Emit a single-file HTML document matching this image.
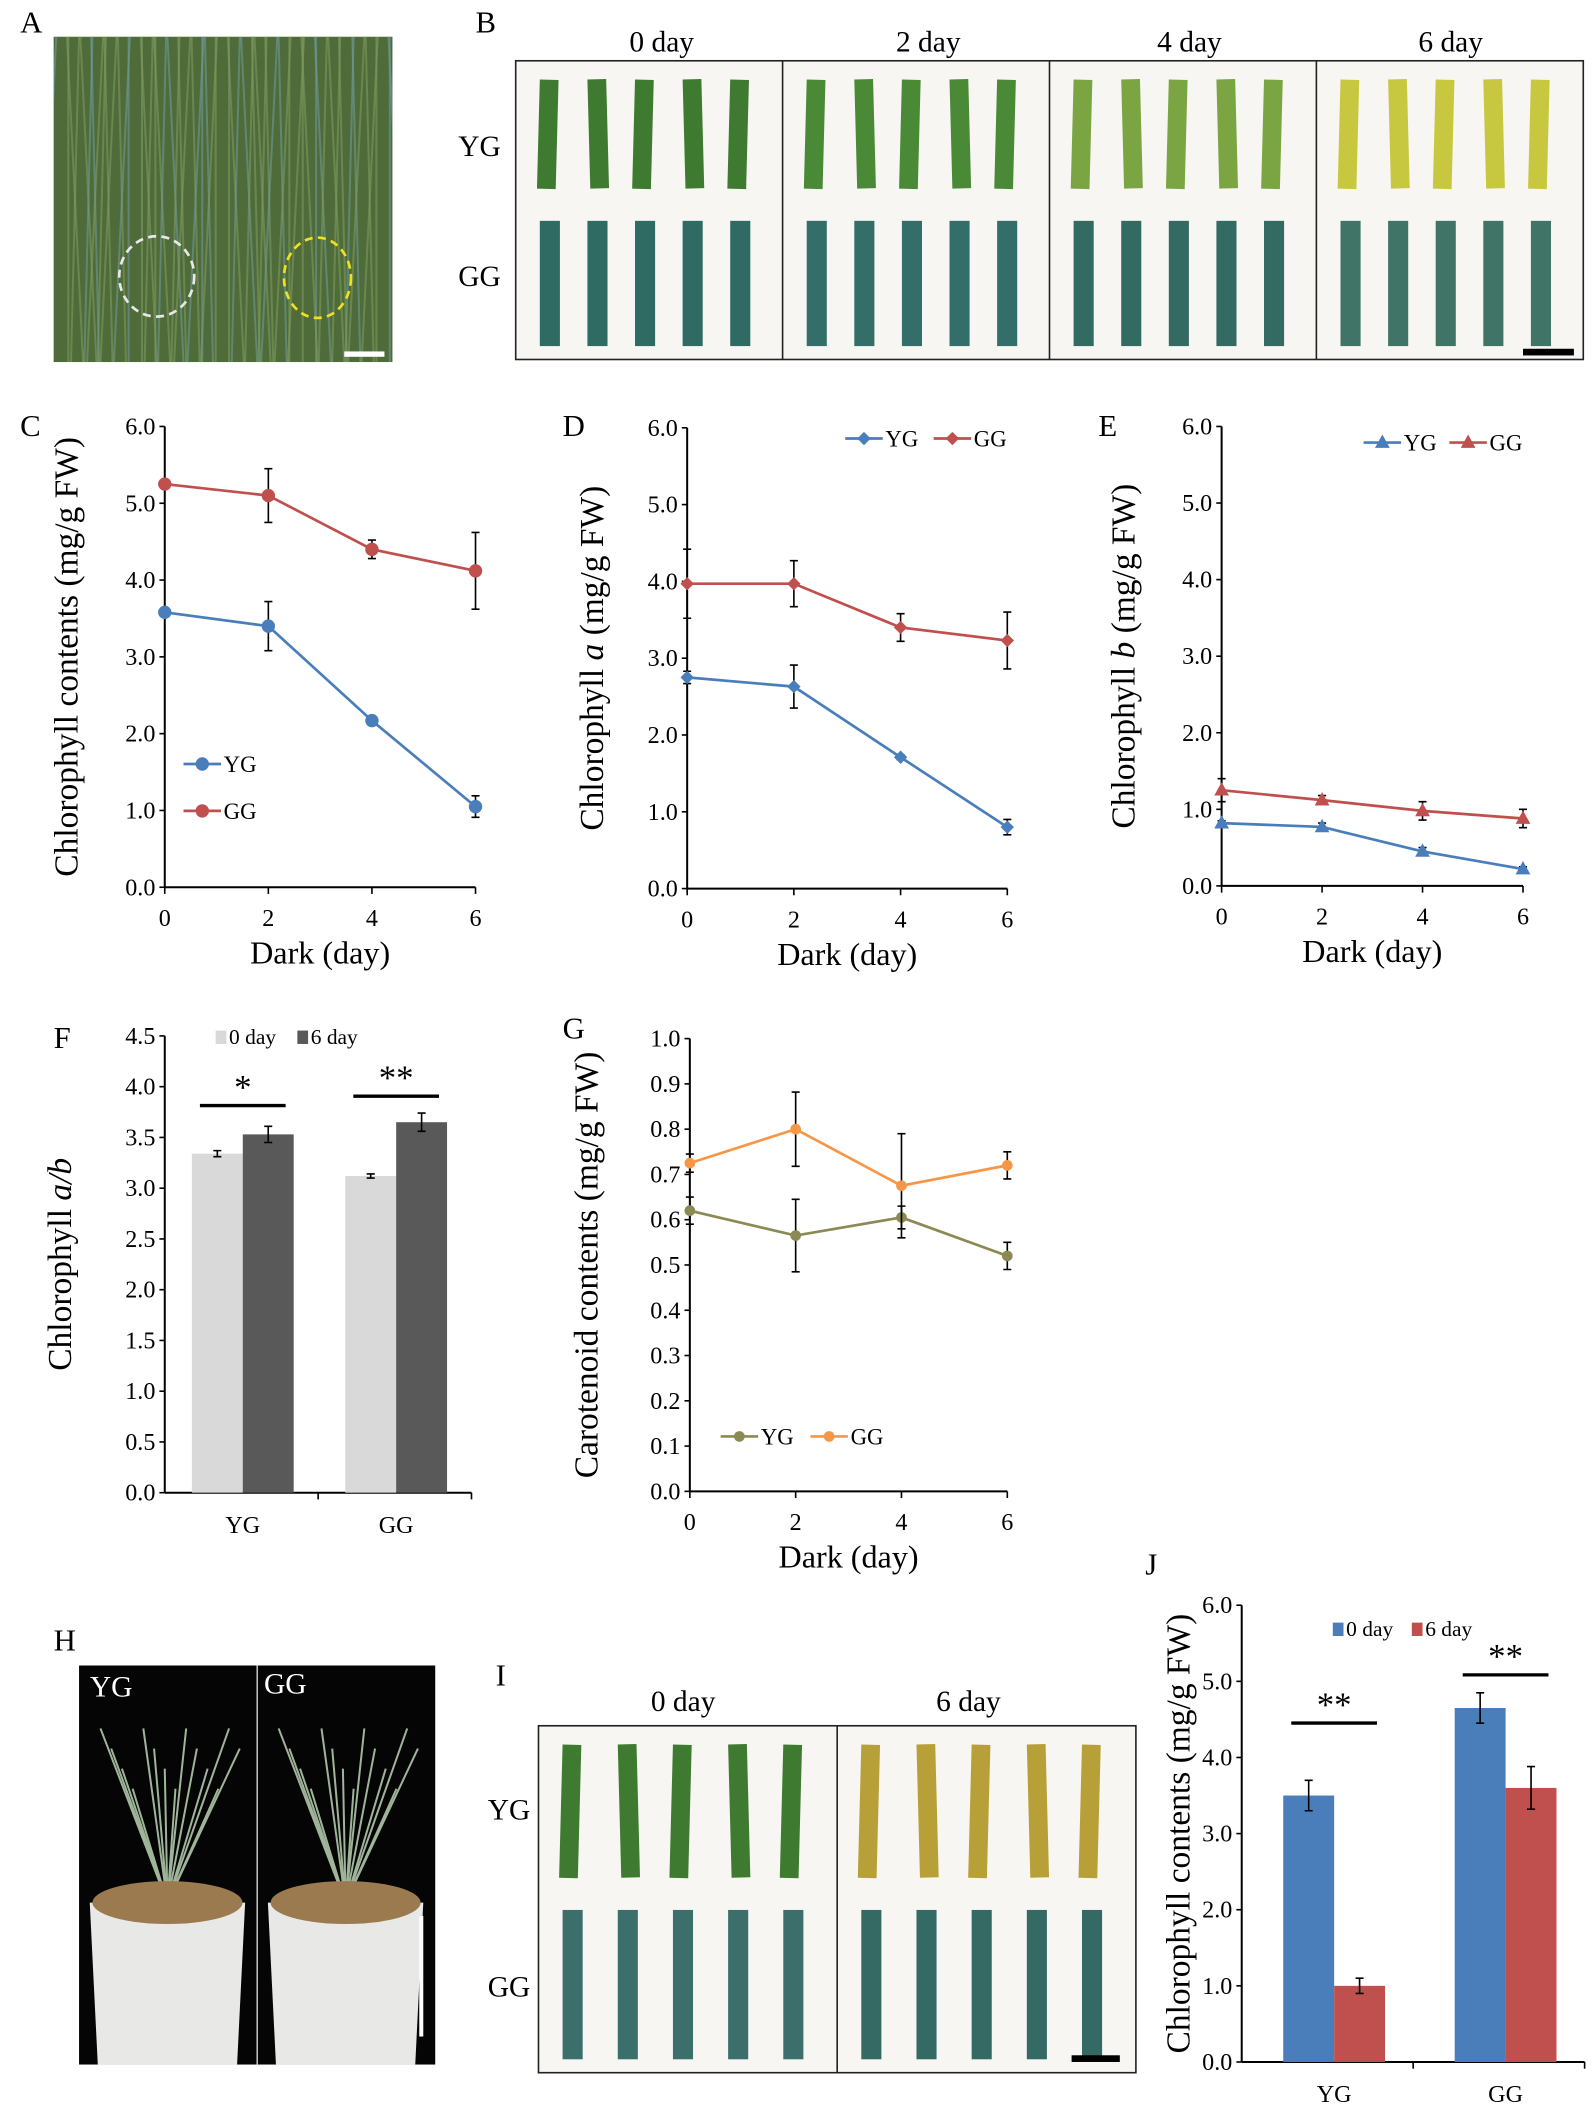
<!DOCTYPE html>
<html><head><meta charset="utf-8"><style>
html,body{margin:0;padding:0;background:#fff;}
svg{display:block;font-family:"Liberation Serif",serif;}
</style></head><body>
<svg id="fig" width="1594" height="2104" viewBox="0 0 1190 1570" xmlns="http://www.w3.org/2000/svg">
<defs><clipPath id="clipA"><rect x="40" y="27" width="253" height="243"/></clipPath>
<clipPath id="clipH"><rect x="59" y="1243" width="266" height="298"/></clipPath></defs>
<rect width="1190" height="1570" fill="#fff"/>
<g id="photos"></g>
<g id="charts"></g>
</svg>
<script>
// ---- chart data ----
const days = [0, 2, 4, 6];
const cYG = [3.58, 3.40, 2.17, 1.05];
const cYGerr = [0.03, 0.32, 0.03, 0.14];
const cGG = [5.25, 5.10, 4.40, 4.12];
const cGGerr = [0.03, 0.35, 0.12, 0.50];
const dYG = [2.75, 2.63, 1.71, 0.80];
const dYGerr = [0.08, 0.28, 0.03, 0.10];
const dGG = [3.97, 3.97, 3.40, 3.23];
const dGGerr = [0.45, 0.30, 0.18, 0.37];
const eYG = [0.82, 0.77, 0.45, 0.22];
const eYGerr = [0.03, 0.05, 0.05, 0.03];
const eGG = [1.25, 1.12, 0.98, 0.88];
const eGGerr = [0.15, 0.06, 0.12, 0.12];
const fGroups = ["YG", "GG"];
const f0day = [3.34, 3.12];
const f0err = [0.03, 0.02];
const f6day = [3.53, 3.65];
const f6err = [0.08, 0.09];
const gYG = [0.62, 0.565, 0.605, 0.52];
const gYGerr = [0.03, 0.08, 0.025, 0.03];
const gGG = [0.725, 0.80, 0.675, 0.72];
const gGGerr = [0.02, 0.082, 0.115, 0.03];
const jGroups = ["YG", "GG"];
const j0day = [3.50, 4.65];
const j0err = [0.20, 0.20];
const j6day = [1.00, 3.60];
const j6err = [0.10, 0.28];
const ticks6 = ["0.0","1.0","2.0","3.0","4.0","5.0","6.0"];
const ticks45 = ["0.0","0.5","1.0","1.5","2.0","2.5","3.0","3.5","4.0","4.5"];
const ticks1 = ["0.0","0.1","0.2","0.3","0.4","0.5","0.6","0.7","0.8","0.9","1.0"];

const NS = "http://www.w3.org/2000/svg";
function mk(parent, tag, attrs, text) {
  const e = document.createElementNS(NS, tag);
  for (const k in attrs) e.setAttribute(k, attrs[k]);
  if (text !== undefined) e.textContent = text;
  parent.appendChild(e);
  return e;
}
const charts = document.getElementById('charts');
const photos = document.getElementById('photos');

function label(x, y, t, size, name, anchor, extra) {
  const e = mk(charts, 'text', Object.assign({x: x, y: y, 'font-size': size, 'text-anchor': anchor || 'middle', fill: '#000'}, extra || {}), t);
  
  
  return e;
}

function axes(g, x0, x1, y0, y1, ticks, xticks, xlabels) {
  mk(g, 'line', {x1: x0, y1: y0, x2: x0, y2: y1, stroke: '#000', 'stroke-width': 1.5});
  mk(g, 'line', {x1: x0, y1: y0, x2: x1, y2: y0, stroke: '#000', 'stroke-width': 1.5});
  const n = ticks.length - 1;
  ticks.forEach((t, i) => {
    const y = y0 - (y0 - y1) * i / n;
    mk(g, 'line', {x1: x0 - 4, y1: y, x2: x0, y2: y, stroke: '#000', 'stroke-width': 1.2});
    const tl = mk(g, 'text', {x: x0 - 7, y: y + 6, 'font-size': 18, 'text-anchor': 'end'}, t);
    
    
  });
  if (xticks) xticks.forEach((x, i) => {
    mk(g, 'line', {x1: x, y1: y0, x2: x, y2: y0 + 5, stroke: '#000', 'stroke-width': 1.2});
    if (xlabels) {
      const tl = mk(g, 'text', {x: x, y: y0 + 29, 'font-size': 18, 'text-anchor': 'middle'}, xlabels[i]);
      
      
    }
  });
}

function marker(g, type, x, y, color, r) {
  if (type === 'circle') return mk(g, 'circle', {cx: x, cy: y, r: r || 5, fill: color});
  if (type === 'diamond') return mk(g, 'path', {d: `M${x},${y-5}L${x+5},${y}L${x},${y+5}L${x-5},${y}Z`, fill: color});
  return mk(g, 'path', {d: `M${x},${y-6}L${x+5.5},${y+4}L${x-5.5},${y+4}Z`, fill: color});
}

function lineChart(cfg) {
  const g = mk(charts, 'g', {});
  
  
  const xs = v => cfg.x0 + (cfg.x1 - cfg.x0) * v / 6;
  const ys = v => cfg.y0 - (cfg.y0 - cfg.y1) * v / cfg.max;
  axes(g, cfg.x0, cfg.x1, cfg.y0, cfg.y1, cfg.ticks, days.map(xs), days.map(String));
  cfg.series.forEach(s => {
    const sg = mk(g, 'g', {});
    
    
    s.vals.forEach((v, i) => {
      const x = xs(days[i]), yt = ys(v + s.err[i]), yb = ys(v - s.err[i]);
      const eb = mk(sg, 'path', {d: `M${x},${yt}V${yb}M${x-3},${yt}H${x+3}M${x-3},${yb}H${x+3}`, stroke: '#000', 'stroke-width': 1.2, fill: 'none'});
      
      
    });
    const pts = s.vals.map((v, i) => xs(days[i]) + ',' + ys(v)).join(' ');
    const pl = mk(sg, 'polyline', {points: pts, fill: 'none', stroke: s.color, 'stroke-width': 2});
    
    
    s.vals.forEach((v, i) => {
      const m = marker(sg, cfg.marker, xs(days[i]), ys(v), s.color, cfg.r);
      
      
    });
  });
  cfg.legend.forEach(l => {
    const lg = mk(g, 'g', {});
    
    
    mk(lg, 'line', {x1: l.x, y1: l.y, x2: l.x + 28, y2: l.y, stroke: l.color, 'stroke-width': 2});
    marker(lg, cfg.marker, l.x + 14, l.y, l.color, cfg.r);
    mk(lg, 'text', {x: l.x + 30, y: l.y + 6, 'font-size': 17}, l.t);
  });
  const xt = mk(g, 'text', {x: (cfg.x0 + cfg.x1) / 2, y: cfg.y0 + 57, 'font-size': 24, 'text-anchor': 'middle'}, 'Dark (day)');
  
  
  const yt = mk(g, 'text', {x: 0, y: 0, 'font-size': 25, 'text-anchor': 'middle', transform: `translate(${cfg.ylx},${(cfg.y0 + cfg.y1) / 2}) rotate(-90)`});
  
  
  cfg.ylabel.forEach(p => { mk(yt, 'tspan', p.i ? {'font-style': 'italic'} : {}, p.t); });
}

const blue = '#4a7ebb', red = '#c0504d';
lineChart({name: 'chart-c-chlorophyll', x0: 123, x1: 355, y0: 662, y1: 318, max: 6, ticks: ticks6, marker: 'circle', ylx: 58,
  ylabel: [{t: 'Chlorophyll contents (mg/g FW)'}],
  series: [{key: 'yg', vals: cYG, err: cYGerr, color: blue}, {key: 'gg', vals: cGG, err: cGGerr, color: red}],
  legend: [{x: 137, y: 570, color: blue, t: 'YG'}, {x: 137, y: 605, color: red, t: 'GG'}]});
lineChart({name: 'chart-d-chlorophyll-a', x0: 513, x1: 752, y0: 663, y1: 319, max: 6, ticks: ticks6, marker: 'diamond', ylx: 450,
  ylabel: [{t: 'Chlorophyll '}, {t: 'a', i: true}, {t: ' (mg/g FW)'}],
  series: [{key: 'yg', vals: dYG, err: dYGerr, color: blue}, {key: 'gg', vals: dGG, err: dGGerr, color: red}],
  legend: [{x: 631, y: 327, color: blue, t: 'YG'}, {x: 697, y: 327, color: red, t: 'GG'}]});
lineChart({name: 'chart-e-chlorophyll-b', x0: 912, x1: 1137, y0: 661, y1: 318, max: 6, ticks: ticks6, marker: 'triangle', ylx: 847,
  ylabel: [{t: 'Chlorophyll '}, {t: 'b', i: true}, {t: ' (mg/g FW)'}],
  series: [{key: 'yg', vals: eYG, err: eYGerr, color: blue}, {key: 'gg', vals: eGG, err: eGGerr, color: red}],
  legend: [{x: 1018, y: 330, color: blue, t: 'YG'}, {x: 1082, y: 330, color: red, t: 'GG'}]});
lineChart({name: 'chart-g-carotenoid', x0: 515, x1: 752, y0: 1113, y1: 775, max: 1, ticks: ticks1, marker: 'circle', r: 4, ylx: 446,
  ylabel: [{t: 'Carotenoid contents (mg/g FW)'}],
  series: [{key: 'yg', vals: gYG, err: gYGerr, color: '#8b8a55'}, {key: 'gg', vals: gGG, err: gGGerr, color: '#f79646'}],
  legend: [{x: 538, y: 1072, color: '#8b8a55', t: 'YG'}, {x: 605, y: 1072, color: '#f79646', t: 'GG'}]});

function barChart(cfg) {
  const g = mk(charts, 'g', {});
  
  
  const ys = v => cfg.y0 - (cfg.y0 - cfg.y1) * v / cfg.max;
  const gw = (cfg.x1 - cfg.x0) / cfg.groups.length;
  axes(g, cfg.x0, cfg.x1, cfg.y0, cfg.y1, cfg.ticks, [cfg.x0 + gw, cfg.x1], null);
  cfg.groups.forEach((grp, i) => {
    const c = cfg.x0 + gw * (i + 0.5) + cfg.shift;
    [[cfg.a, cfg.aerr, cfg.ca, -1, '0-day'], [cfg.b, cfg.berr, cfg.cb, 0, '6-day']].forEach(s => {
      const x = c + s[3] * cfg.bw, v = s[0][i], y = ys(v);
      const r = mk(g, 'rect', {x: x, y: y, width: cfg.bw, height: cfg.y0 - y, fill: s[2]});
      
      
      const mx = x + cfg.bw / 2, yt = ys(v + s[1][i]), yb = ys(v - s[1][i]);
      const eb = mk(g, 'path', {d: `M${mx},${yt}V${yb}M${mx-3},${yt}H${mx+3}M${mx-3},${yb}H${mx+3}`, stroke: '#000', 'stroke-width': 1.2});
      
      
    });
    const tl = mk(g, 'text', {x: c, y: cfg.y0 + 30, 'font-size': 18, 'text-anchor': 'middle'}, grp);
    
    
    const sy = cfg.sig[i].y;
    const sl = mk(g, 'line', {x1: c - 32, y1: sy, x2: c + 32, y2: sy, stroke: '#000', 'stroke-width': 2.5});
    
    
    const st = mk(g, 'text', {x: c, y: sy - 5, 'font-size': 26, 'text-anchor': 'middle'}, cfg.sig[i].t);
    
    
  });
  cfg.legend.forEach(l => {
    const lg = mk(g, 'g', {});
    
    
    mk(lg, 'rect', {x: l.x, y: l.y - 10, width: 8, height: 10, fill: l.c});
    mk(lg, 'text', {x: l.x + 10, y: l.y, 'font-size': 16}, l.t);
  });
  const yt = mk(g, 'text', {x: 0, y: 0, 'font-size': 25, 'text-anchor': 'middle', transform: `translate(${cfg.ylx},${(cfg.y0 + cfg.y1) / 2}) rotate(-90)`});
  
  
  cfg.ylabel.forEach(p => mk(yt, 'tspan', p.i ? {'font-style': 'italic'} : {}, p.t));
}
barChart({name: 'chart-f-ratio', x0: 123, x1: 352, y0: 1114, y1: 773, max: 4.5, ticks: ticks45, groups: fGroups, bw: 38, shift: 1,
  a: f0day, aerr: f0err, b: f6day, berr: f6err, ca: '#d9d9d9', cb: '#595959', ylx: 53,
  ylabel: [{t: 'Chlorophyll '}, {t: 'a/b', i: true}],
  sig: [{y: 825, t: '*'}, {y: 818, t: '**'}],
  legend: [{x: 161, y: 779, c: '#d9d9d9', t: '0 day'}, {x: 222, y: 779, c: '#595959', t: '6 day'}]});
barChart({name: 'chart-j-chlorophyll', x0: 927, x1: 1183, y0: 1539, y1: 1198, max: 6, ticks: ticks6, groups: jGroups, bw: 38, shift: 5,
  a: j0day, aerr: j0err, b: j6day, berr: j6err, ca: '#4a7ebb', cb: '#c0504d', ylx: 888,
  ylabel: [{t: 'Chlorophyll contents (mg/g FW)'}],
  sig: [{y: 1286, t: '**'}, {y: 1250, t: '**'}],
  legend: [{x: 995, y: 1221, c: '#4a7ebb', t: '0 day'}, {x: 1054, y: 1221, c: '#c0504d', t: '6 day'}]});

// panel letters
[['A',15,24],['B',355,24],['C',15,325],['D',420,325],['E',820,325],['F',40,782],['G',420,775],['H',40,1232],['I',370,1258],['J',855,1175]].forEach(p => {
  const e = mk(charts, 'text', {x: p[1], y: p[2], 'font-size': 23}, p[0]);
  
  
});

// ---- photos ----
function leafPanel(x, y, w, h, cols, name) {
  const g = mk(photos, 'g', {});
  
  
  mk(g, 'rect', {x: x, y: y, width: w, height: h, fill: '#f7f6f3', stroke: '#222', 'stroke-width': 1.2});
  const pw = w / cols.length;
  cols.forEach((cc, i) => {
    if (i > 0) mk(g, 'line', {x1: x + pw * i, y1: y, x2: x + pw * i, y2: y + h, stroke: '#222', 'stroke-width': 1.2});
    for (let k = 0; k < 5; k++) {
      const lx = x + pw * i + 18 + k * (pw - 50) / 4.2;
      mk(g, 'rect', {x: lx, y: y + 14, width: 14, height: h / 2 - 30, fill: cc[0], transform: `rotate(${(k % 2 ? -1.5 : 1.5)} ${lx} ${y + 14})`});
      mk(g, 'rect', {x: lx, y: y + h / 2 + 8, width: 15, height: h / 2 - 18, fill: cc[1]});
    }
  });
  return g;
}
// A
const ga = mk(photos, 'g', {'clip-path': 'url(#clipA)'});


mk(ga, 'rect', {x: 40, y: 27, width: 253, height: 243, fill: '#4f6b39'});
for (let i = 0; i < 60; i++) {
  const x = 42 + (i * 37) % 250;
  mk(ga, 'line', {x1: x, y1: 27, x2: x + ((i % 5) - 2) * 6, y2: 270, stroke: i % 3 ? '#7d9a62' : '#6e9a9a', 'stroke-width': 1.5, opacity: 0.6});
}
mk(ga, 'ellipse', {cx: 117, cy: 206, rx: 28, ry: 30, fill: 'none', stroke: '#e8e8e8', 'stroke-width': 2, 'stroke-dasharray': '6 4'});
mk(ga, 'ellipse', {cx: 237, cy: 207, rx: 25, ry: 30, fill: 'none', stroke: '#f0e020', 'stroke-width': 2, 'stroke-dasharray': '6 4'});
mk(ga, 'rect', {x: 257, y: 262, width: 30, height: 4, fill: '#fff'});
// B
leafPanel(385, 45, 797, 223, [['#3e7a2f','#2f6b63'],['#4a8a36','#336f68'],['#7ba542','#336b62'],['#c7c840','#3f7466']], 'leaf-photo-b');
mk(photos, 'rect', {x: 1137, y: 260, width: 38, height: 5, fill: '#000'});
// I
leafPanel(402, 1288, 446, 259, [['#3e7a2f','#3c6f6c'],['#b8a039','#346a63']], 'leaf-photo-i');
mk(photos, 'rect', {x: 800, y: 1534, width: 36, height: 5, fill: '#000'});
// H
const gh = mk(photos, 'g', {'clip-path': 'url(#clipH)'});


mk(gh, 'rect', {x: 59, y: 1243, width: 266, height: 298, fill: '#050505'});
mk(gh, 'line', {x1: 192, y1: 1243, x2: 192, y2: 1541, stroke: '#ddd', 'stroke-width': 1});
[[125,1420],[258,1420]].forEach(p => {
  for (let k = 0; k < 14; k++) mk(gh, 'line', {x1: p[0], y1: p[1], x2: p[0] - 50 + k * 8, y2: 1290 + (k % 4) * 15, stroke: '#9fb59a', 'stroke-width': 1.5});
  mk(gh, 'path', {d: `M${p[0]-58},${p[1]} L${p[0]+58},${p[1]} L${p[0]+52},${1541} L${p[0]-52},${1541}Z`, fill: '#e8e8e6'});
  mk(gh, 'ellipse', {cx: p[0], cy: p[1], rx: 56, ry: 16, fill: '#9b7a50'});
});
mk(gh, 'rect', {x: 313, y: 1430, width: 3, height: 90, fill: '#fff'});

// photo labels
[['0 day',494,38,'B'],['2 day',693,38,'B'],['4 day',888,38,'B'],['6 day',1083,38,'B'],['0 day',510,1277,'I'],['6 day',723,1277,'I']].forEach(p => label(p[1], p[2], p[0], 22, 'column-label'));
[['YG',358,116],['GG',358,213],['YG',380,1358],['GG',380,1490]].forEach(p => label(p[1], p[2], p[0], 22, 'row-label'));
label(83, 1266, 'YG', 22, 'photo-label', 'middle', {fill: '#fff'});
label(213, 1264, 'GG', 22, 'photo-label', 'middle', {fill: '#fff'});
</script>
</body></html>
